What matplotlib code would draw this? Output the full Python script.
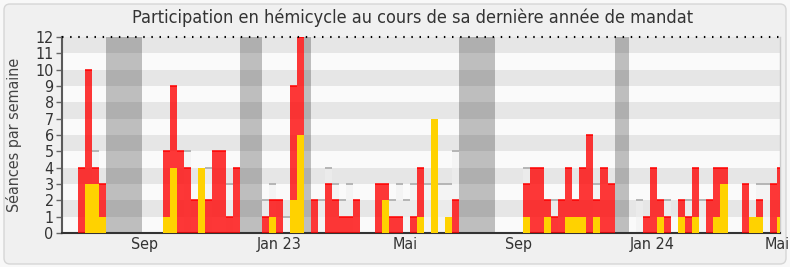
import numpy as np
import matplotlib.pyplot as plt
from matplotlib.patches import FancyBboxPatch
from matplotlib.transforms import IdentityTransform

plt.rcParams['font.family'] = ['DejaVu Sans']
plt.rcParams['font.stretch'] = 'condensed'

# Weekly counts, one value per week (week 0 = start of the term)
presences = [4, 10, 4, 3, 0, 0, 0, 0, 0, 0,
             0, 0, 5, 9, 5, 4, 2, 4, 2, 5,
             5, 1, 4, 0, 0, 0, 1, 2, 2, 0,
             9, 12, 0, 2, 0, 3, 2, 1, 1, 2,
             0, 0, 3, 3, 1, 1, 0, 1, 4, 0,
             7, 0, 1, 2, 0, 0, 0, 0, 0, 0,
             0, 0, 0, 3, 4, 4, 2, 1, 2, 4,
             2, 4, 6, 2, 4, 3, 0, 0, 0, 0,
             1, 4, 2, 1, 0, 2, 1, 4, 0, 2,
             4, 4, 0, 0, 3, 1, 2, 0, 3, 4]

interventions = [0, 3, 3, 1, 0, 0, 0, 0, 0, 0,
                 0, 0, 1, 4, 0, 0, 0, 4, 0, 0,
                 0, 0, 0, 0, 0, 0, 0, 1, 0, 0,
                 2, 6, 0, 0, 0, 0, 0, 0, 0, 0,
                 0, 0, 0, 2, 0, 0, 0, 0, 1, 0,
                 7, 0, 1, 0, 0, 0, 0, 0, 0, 0,
                 0, 0, 0, 1, 0, 0, 1, 0, 0, 1,
                 1, 1, 0, 1, 0, 0, 0, 0, 0, 0,
                 0, 0, 1, 0, 0, 1, 0, 1, 0, 0,
                 1, 3, 0, 0, 0, 1, 1, 0, 0, 1]

# median presence of all deputies (only where it rises above the deputy's own bar)
mediane = [0, 0, 5, 0, 0, 0, 0, 0, 0, 0,
           0, 0, 0, 0, 0, 5, 0, 0, 4, 0,
           0, 3, 0, 0, 0, 0, 2, 3, 0, 1,
           0, 0, 0, 0, 2, 4, 3, 2, 3, 0,
           0, 0, 0, 0, 2, 3, 2, 3, 0, 3,
           0, 3, 3, 5, 0, 0, 0, 0, 0, 0,
           0, 0, 0, 4, 0, 0, 0, 2, 0, 0,
           0, 0, 0, 3, 0, 0, 0, 0, 0, 2,
           0, 0, 0, 2, 0, 0, 2, 0, 2, 0,
           0, 0, 0, 0, 0, 0, 3, 3, 0, 0]

vacances = [0, 0, 0, 0, 1, 1, 1, 1, 1, 0,
            0, 0, 0, 0, 0, 0, 0, 0, 0, 0,
            0, 0, 0, 1, 1, 1, 0, 0, 0, 0,
            0, 0, 1, 0, 0, 0, 0, 0, 0, 0,
            0, 0, 0, 0, 0, 0, 0, 0, 0, 0,
            0, 0, 0, 0, 1, 1, 1, 1, 1, 0,
            0, 0, 0, 0, 0, 0, 0, 0, 0, 0,
            0, 0, 0, 0, 0, 0, 1, 1, 0, 0,
            0, 0, 0, 0, 0, 0, 0, 0, 0, 0,
            0, 0, 0, 0, 0, 0, 0, 0, 0, 0]

mois = ['Sep', 'Jan 23', 'Mai', 'Sep', 'Jan 24', 'Mai']
mois_pos = [9.46, 28.5, 46.4, 62.4, 81.3, 99.1]

semaines = np.arange(len(presences))
presences = np.array(presences)
interventions = np.array(interventions)
mediane = np.array(mediane)
vac = np.array(vacances)

fig = plt.figure(figsize=(7.9, 2.67), dpi=100)
fig.patch.set_facecolor('#f8f8f8')
cadre = FancyBboxPatch((4, 3), 782, 260, boxstyle='round,pad=0,rounding_size=6',
                       transform=IdentityTransform(), facecolor='#f0f0f0',
                       edgecolor='#d6d6d6', lw=1, zorder=-10)
fig.patches.append(cadre)

ax = fig.add_axes([62 / 790, 34 / 267, 718 / 790, 196 / 267])
ax.set_zorder(1)
ax.set_facecolor('#fafafa')
for i in range(1, 12, 2):
    ax.axhspan(i, i + 1, color='#e6e6e6', lw=0, zorder=0)

# parliamentary breaks
bords = np.diff(np.concatenate([[0], vac, [0]]))
for debut, fin in zip(np.where(bords == 1)[0], np.where(bords == -1)[0]):
    ax.axvspan(debut, fin, color='black', alpha=0.24, lw=0, zorder=1)

# median of all deputies
ax.bar(semaines, mediane, width=1, align='edge', color='#f0f0f0', alpha=0.6, lw=0, zorder=2)
m = mediane > 0
ax.hlines(mediane[m], semaines[m], semaines[m] + 1, color='#b0b0b0', lw=1.3, zorder=2.5)

# presences and interventions
ax.bar(semaines, presences, width=1, align='edge', color='#ff0000', alpha=0.78, lw=0, zorder=3)
p = (presences > 0) & (presences > interventions)
ax.hlines(presences[p], semaines[p], semaines[p] + 1, color='#ff0000', lw=1.1, zorder=3.5)
ax.bar(semaines, interventions, width=1, align='edge', color='#ffd200', lw=0, zorder=4)

ax.set_xlim(-2.27, 99.43)
ax.set_ylim(0, 12)
ax.set_yticks(range(13))
ax.set_xticks(mois_pos)
ax.set_xticklabels(mois)
ax.tick_params(axis='y', direction='out', length=4, width=1, color='#666666',
               labelsize=11.5, labelcolor='#333333', pad=2)
ax.tick_params(axis='x', length=0, labelsize=11.5, labelcolor='#333333', pad=3)

ax.spines['left'].set_color('#5a5a5a')
ax.spines['left'].set_linewidth(1.5)
ax.spines['bottom'].set_color('#333333')
ax.spines['bottom'].set_linewidth(1.5)
ax.spines['right'].set_color('#cccccc')
ax.spines['right'].set_linewidth(1)
ax.spines['top'].set_visible(False)
# dotted upper border
ax.axhline(12, color='black', lw=1.5, linestyle=(0, (0.7, 3.2)), clip_on=False, zorder=5)

ax.set_ylabel('Séances par semaine', fontsize=11.5, color='#444444')
ax.yaxis.set_label_coords(-0.056, 0.5)

fig.text(413 / 790, 1 - 18 / 267, 'Participation en hémicycle au cours de sa dernière année de mandat',
         ha='center', va='center', fontsize=13, color='#333333')

fig.savefig('out.png', dpi=100, facecolor=fig.get_facecolor())
